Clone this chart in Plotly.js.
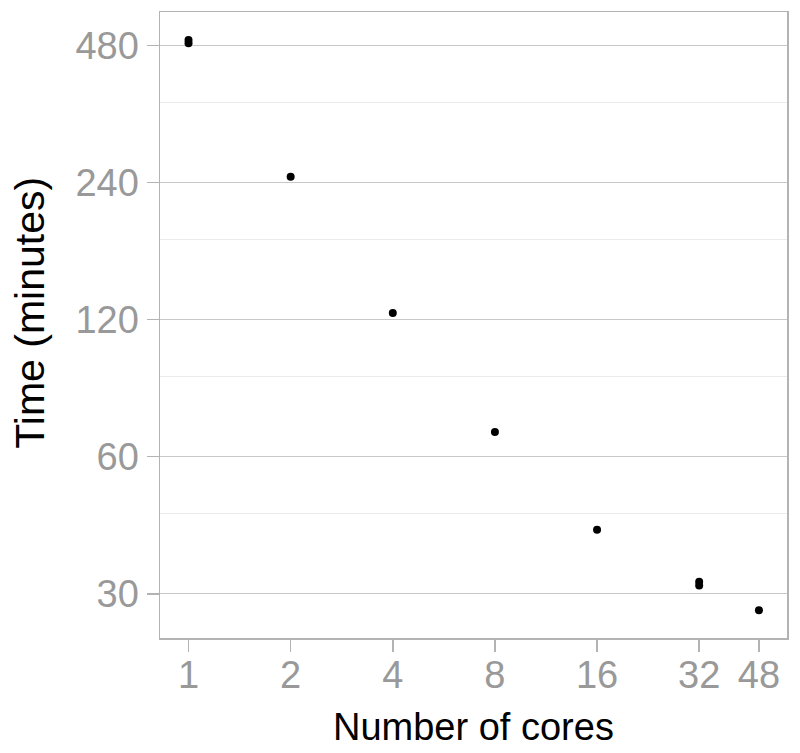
<!DOCTYPE html>
<html>
<head>
<meta charset="utf-8">
<script src="https://cdn.plot.ly/plotly-3.0.1.min.js"></script>
<style>
  html, body { margin: 0; padding: 0; background: #fff; }
  #vis { width: 800px; height: 753px; }
</style>
</head>
<body>
<div id="vis"></div>
<script>
// runtimes (two runs at 1 and 32 cores)
const cores = [1, 1, 2, 4, 8, 16, 32, 32, 48]
const minutes = [493, 485, 247, 124, 68, 41.5, 31.9, 31.3, 27.6]

const xTicks = [1, 2, 4, 8, 16, 32, 48]
const yTicks = [30, 60, 120, 240, 480]
// minor lines sit at the plain midpoints of the majors
const yMinor = [45, 90, 180, 360]

const axisGrey = '#b3b3b3'
const labelGrey = '#999999'

function makePlot () {
  const traces = [
    {
      type: 'scatter',
      mode: 'markers',
      x: cores,
      y: minutes,
      marker: { color: '#000', size: 8 },
      hoverinfo: 'x+y'
    }
  ]

  const layout = {
    width: 800,
    height: 753,
    margin: { l: 160, r: 13, t: 12, b: 115 },
    paper_bgcolor: '#fff',
    plot_bgcolor: '#fff',
    showlegend: false,
    font: { family: 'Liberation Sans, Arial, sans-serif' },
    xaxis: {
      type: 'log',
      range: [-0.0841, 1.764],
      tickmode: 'array',
      tickvals: xTicks,
      ticktext: xTicks.map(String),
      showgrid: false,
      zeroline: false,
      showline: true,
      mirror: true,
      linecolor: axisGrey,
      linewidth: 1.5,
      ticks: 'outside',
      ticklen: 12,
      tickwidth: 1.5,
      tickcolor: axisGrey,
      ticklabelstandoff: -9,
      tickfont: { size: 38, color: labelGrey },
      automargin: false
    },
    yaxis: {
      type: 'log',
      range: [1.3802, 2.7545],
      tickmode: 'array',
      tickvals: yTicks,
      ticktext: yTicks.map(String),
      showgrid: true,
      gridcolor: '#c8c8c8',
      gridwidth: 1.3,
      zeroline: false,
      showline: true,
      mirror: true,
      linecolor: axisGrey,
      linewidth: 1.5,
      ticks: 'outside',
      ticklen: 12,
      tickwidth: 1.5,
      tickcolor: axisGrey,
      tickfont: { size: 38, color: labelGrey },
      minor: {
        tickmode: 'array',
        tickvals: yMinor,
        showgrid: true,
        gridcolor: '#ebebeb',
        gridwidth: 1.3,
        ticks: ''
      },
      automargin: false
    },
    annotations: [
      {
        text: 'Number of cores',
        xref: 'paper', yref: 'paper',
        x: 0.5, y: -0.142,
        xanchor: 'center', yanchor: 'middle',
        showarrow: false,
        font: { size: 38, color: '#000' }
      },
      {
        text: 'Time (minutes)',
        xref: 'paper', yref: 'paper',
        x: -0.207, y: 0.52,
        xanchor: 'center', yanchor: 'middle',
        textangle: -90,
        showarrow: false,
        font: { size: 41, color: '#000' }
      }
    ]
  }

  return Plotly.newPlot('vis', traces, layout, { staticPlot: true })
}

makePlot()
</script>
</body>
</html>
